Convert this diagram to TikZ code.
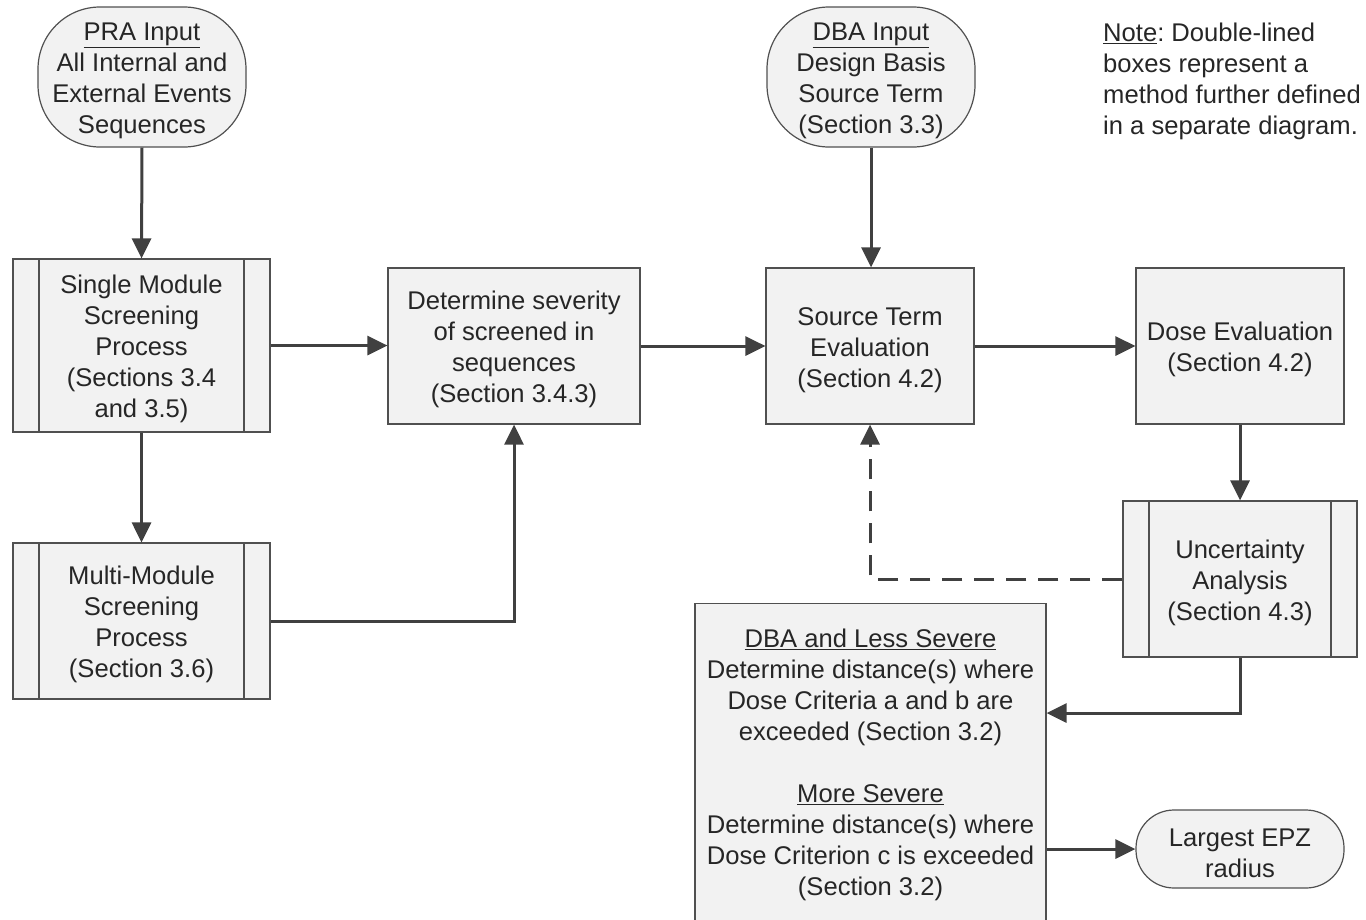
\documentclass[tikz,border=0pt]{standalone}
\usepackage{fontspec}
\setmainfont{Liberation Sans}
\usetikzlibrary{arrows.meta,calc}
\definecolor{boxfill}{HTML}{F2F2F2}
\definecolor{boxline}{HTML}{505050}
\definecolor{arrowc}{HTML}{404040}
\definecolor{txt}{HTML}{262626}
\newcommand\tup{\rule{0pt}{26pt}}
\frenchspacing
\begin{document}
\begin{tikzpicture}[x=1pt,y=-1pt,
  every node/.style={font=\fontsize{25.6}{31}\selectfont, text=txt, align=center, inner sep=0pt},
  box/.style={draw=boxline, fill=boxfill, line width=1.2pt},
  dbl/.style={box, path picture={\draw[boxline, line width=1.2pt]
     ([xshift=26pt]path picture bounding box.north west) -- ([xshift=26pt]path picture bounding box.south west)
     ([xshift=-26pt]path picture bounding box.north east) -- ([xshift=-26pt]path picture bounding box.south east);}},
  terminal/.style={box, rounded corners=#1},
  flow/.style={draw=arrowc, line width=3pt, -{Triangle[length=20pt,width=19pt]}},
  dashflow/.style={flow, dash pattern=on 20pt off 12pt}
]
\useasboundingbox (0,0) rectangle (1366,919);

\node[terminal=62pt, minimum width=208, minimum height=140] (pra) at (142,77)
  {\tup\underline{PRA Input}\\All Internal and\\External Events\\Sequences};
\node[dbl, minimum width=257, minimum height=173] (single) at (141.5,345.5)
  {\tup Single Module\\Screening\\Process\\(Sections 3.4\\and 3.5)};
\node[dbl, minimum width=257, minimum height=156] (multi) at (141.5,621)
  {\tup Multi-Module\\Screening\\Process\\(Section 3.6)};
\node[box, minimum width=252, minimum height=156] (sev) at (514,346)
  {\tup Determine severity\\of screened in\\sequences\\(Section 3.4.3)};
\node[box, minimum width=208, minimum height=156] (src) at (870,346)
  {\tup Source Term\\Evaluation\\(Section 4.2)};
\node[terminal=62pt, minimum width=208, minimum height=140] (dbain) at (871,77)
  {\tup\underline{DBA Input}\\Design Basis\\Source Term\\(Section 3.3)};
\node[box, minimum width=208, minimum height=156] (dose) at (1240,346)
  {\tup Dose Evaluation\\(Section 4.2)};
\node[dbl, minimum width=234, minimum height=156] (unc) at (1240,579)
  {\tup Uncertainty\\Analysis\\(Section 4.3)};
\node[box, minimum width=351, minimum height=330, anchor=north] (dbabox) at (870.5,603) {};
\node (dbatext) at (870.5,761)
  {\tup\underline{DBA and Less Severe}\\Determine distance(s) where\\Dose Criteria a and b are\\exceeded (Section 3.2)\\[31pt]\underline{More Severe}\\Determine distance(s) where\\Dose Criterion c is exceeded\\(Section 3.2)};
\node[terminal=38pt, minimum width=208, minimum height=78] (epz) at (1240,849)
  {\tup Largest EPZ\\radius};
\node[anchor=west, align=left] (note) at (1103,81)
  {\underline{Note}: Double-lined\\boxes represent a\\method further defined\\in a separate diagram.};

\draw[flow] (pra.south) -- (single.north);
\draw[flow] (single.south) -- (multi.north);
\draw[flow] (single.east) -- (single.east -| sev.west);
\draw[flow] (multi.east) -| (sev.south);
\draw[flow] (sev.east) -- (sev.east -| src.west);
\draw[flow] (dbain.south) -- (dbain.south |- src.north);
\draw[flow] (src.east) -- (src.east -| dose.west);
\draw[flow] (dose.south) -- (unc.north);
\draw[dashflow] (unc.west) -| (src.south);
\draw[flow] (unc.south) |- ($(dbabox.north east)+(0,110)$);
\draw[flow] (dbabox.east |- epz.west) -- (epz.west);
\end{tikzpicture}
\end{document}
